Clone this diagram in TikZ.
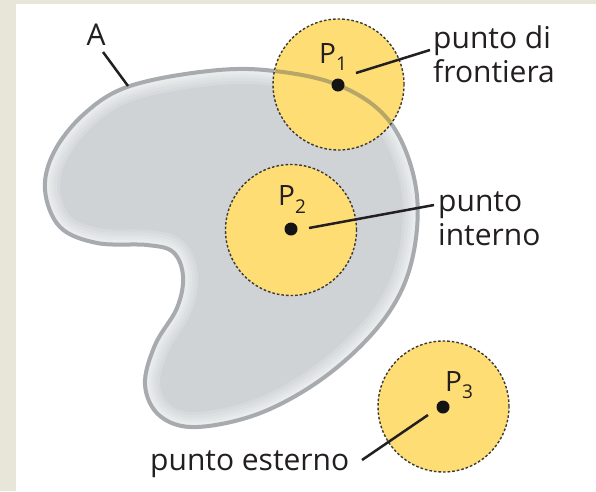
\documentclass[tikz,border=0pt]{standalone}
\usepackage{fontspec}
\setmainfont{Open Sans}
\definecolor{beige}{HTML}{E8E6D9}
\definecolor{shapefill}{HTML}{CFD3D6}
\definecolor{outl}{HTML}{A7ABAE}
\definecolor{tanl}{HTML}{B7A668}
\definecolor{yel}{HTML}{FEDD75}
\definecolor{dashc}{HTML}{3A3A3A}
\definecolor{txt}{HTML}{231F20}
\begin{document}
\begin{tikzpicture}[x=1pt,y=-1pt,
  lbl/.style={inner sep=0, anchor=base west, font=\fontsize{30}{34}\selectfont, text=txt},
  plbl/.style={inner sep=0, anchor=base west, font=\fontsize{28}{34}\selectfont, text=txt},
  leader/.style={line width=2.5pt, draw=txt},
  nbhd/.style={circle, minimum size=131pt, inner sep=0, fill=yel, draw=dashc, line width=1.4pt, dash pattern=on 2.6pt off 2pt},
  dotpt/.style={circle, fill=black!92, minimum size=13pt, inner sep=0},
  glow/.style={white, opacity=0.16},
]
\useasboundingbox (0,0) rectangle (596,491);
\fill[beige] (0,0) rectangle (596,491);
\fill[white] (16,4) rectangle (596,491);
\def\shp{plot[smooth cycle, tension=0.6] coordinates {
 (127,87) (200,72) (265,70) (338,85) (390,122) (416,188) (412,260) (385,318)
 (330,373) (263,412) (197,427) (160,416) (145,385) (155,345) (177,308)
 (183,276) (173,252) (147,245) (97,243) (60,227) (45,190) (54,152) (84,114)}}
\fill[shapefill] \shp;
\begin{scope}
  \clip \shp;
  \draw[line width=30pt, glow] \shp;
  \draw[line width=24pt, glow] \shp;
  \draw[line width=18pt, glow] \shp;
  \draw[line width=13pt, glow] \shp;
  \draw[line width=9pt, glow] \shp;
\end{scope}
\draw[line width=4pt, outl] \shp;
% neighbourhoods
\node[nbhd] (n1) at (338.5,84.5) {};
\begin{scope}
  \clip (338.5,84.5) circle[radius=64.6];
  \draw[line width=4pt, tanl] \shp;
\end{scope}
\node[nbhd] (n2) at (291,230) {};
\node[nbhd] (n3) at (443.5,406.5) {};
% points
\node[dotpt] (d1) at (338,85) {};
\node[dotpt] (d2) at (291,229) {};
\node[dotpt] (d3) at (443,407) {};
% point labels
\node[plbl] (p1) at (319,63) {P\raisebox{-7pt}{\fontsize{19}{19}\selectfont 1}};
\node[plbl] (p2) at (278,205) {P\raisebox{-8pt}{\fontsize{19}{19}\selectfont 2}};
\node[plbl] (p3) at (445,391) {P\raisebox{-7pt}{\fontsize{19}{19}\selectfont 3}};
% texts
\node[lbl, anchor=base] (a) at (96,45) {A};
\node[lbl] (t1a) at (433,48) {punto di};
\node[lbl] (t1b) at (433,82) {frontiera};
\node[lbl] (t2a) at (438,211) {punto};
\node[lbl] (t2b) at (438,245) {interno};
\node[lbl] (t3) at (150,470) {punto esterno};
% leader coordinates
\coordinate (a1) at (103,52);
\coordinate (a2) at (128,86);
\coordinate (l1s) at (356,73);
\coordinate (l1e) at (430,50);
\coordinate (l2s) at (309,228);
\coordinate (l2e) at (434,205);
\coordinate (l3s) at (428,415);
\coordinate (l3e) at (362,460);
\draw[leader] (a1) -- (a2);
\draw[leader] (l1s) -- (l1e);
\draw[leader] (l2s) -- (l2e);
\draw[leader] (l3s) -- (l3e);
\end{tikzpicture}
\end{document}
